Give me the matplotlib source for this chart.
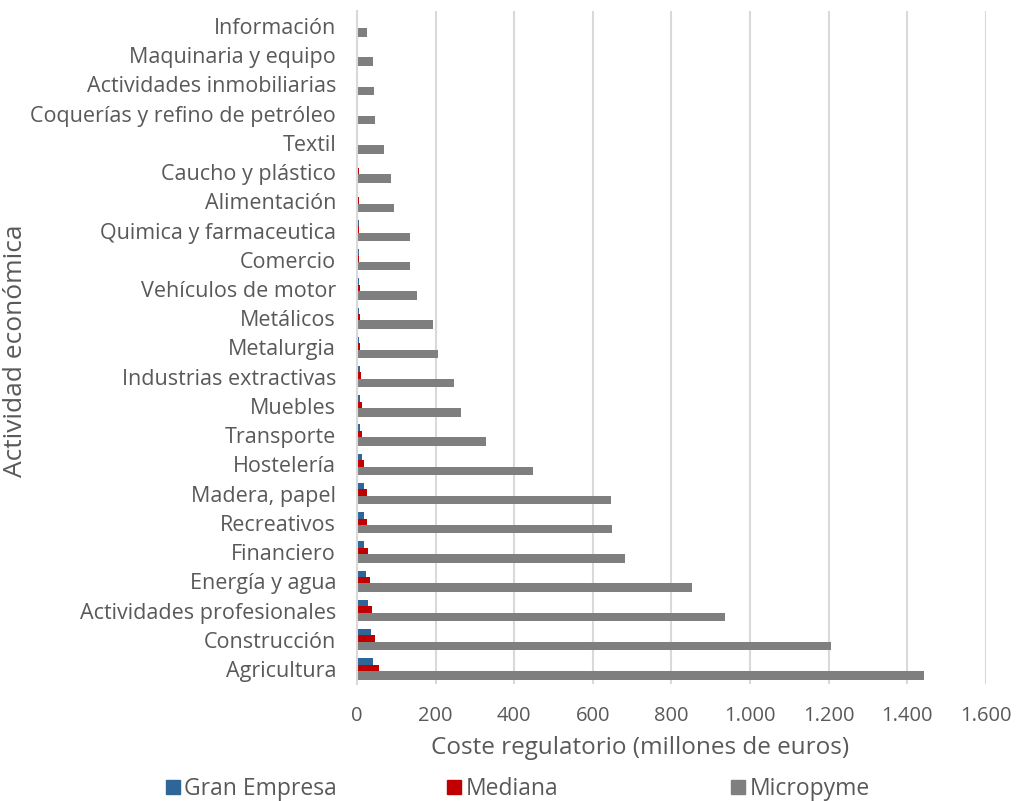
import numpy as np
import matplotlib
matplotlib.use("Agg")
import matplotlib.pyplot as plt
from matplotlib.patches import Patch

# sectors listed bottom to top
sectores = ["Agricultura", "Construcción", "Actividades profesionales", "Energía y agua",
            "Financiero", "Recreativos", "Madera, papel", "Hostelería", "Transporte",
            "Muebles", "Industrias extractivas", "Metalurgia", "Metálicos",
            "Vehículos de motor", "Comercio", "Quimica y farmaceutica", "Alimentación",
            "Caucho y plástico", "Textil", "Coquerías y refino de petróleo",
            "Actividades inmobiliarias", "Maquinaria y equipo", "Información"]

gran_empresa = [41, 35, 27, 24, 19, 18, 18, 13, 9, 8, 7, 6, 5,
                5, 4, 4, 3, 3, 2, 2, 2, 1.5, 1]
mediana = [57, 47, 37, 34, 27, 26, 26, 18, 14, 12, 11, 9, 8,
           7, 6, 6, 5, 4, 3, 3, 2.5, 2.5, 1.5]
micropyme = [1442, 1206, 936, 852, 683, 648, 646, 448, 329, 264, 248, 205, 194,
             152, 136, 134, 93, 87, 68, 45, 44, 41, 25]

x_ticks = [0, 200, 400, 600, 800, 1000, 1200, 1400, 1600]
x_ticklabels = ["0", "200", "400", "600", "800", "1.000", "1.200", "1.400", "1.600"]

c_gran = "#2F6699"
c_med = "#C00000"
c_micro = "#7F7F7F"
txt = "#595959"
font = "Open Sans"

fig = plt.figure(figsize=(10.19, 8.01), dpi=100)
ax = fig.add_axes([0.3503, 0.1466, 0.6173, 0.8392])

y = np.arange(len(sectores))
off = 0.22
h = 0.29
ax.barh(y + off, gran_empresa, height=h, color=c_gran, zorder=3)
ax.barh(y, mediana, height=h, color=c_med, zorder=4)
ax.barh(y - off, micropyme, height=h, color=c_micro, zorder=5)

ax.set_ylim(-0.5, len(sectores) - 0.5)
ax.set_xlim(0, 1600)
ax.set_xticks(x_ticks)
ax.set_xticklabels(x_ticklabels, fontsize=14.5, color=txt, family=font)
ax.set_yticks(y)
ax.set_yticklabels(sectores, fontsize=15.5, color=txt, family=font)
ax.tick_params(axis="both", length=0)
ax.tick_params(axis="x", pad=16)
ax.tick_params(axis="y", pad=15)

ax.grid(axis="x", color="#D9D9D9", linewidth=1.5, zorder=0)
for s in ["top", "right", "bottom"]:
    ax.spines[s].set_visible(False)
ax.spines["left"].set_color("#D9D9D9")
ax.spines["left"].set_linewidth(1.5)
ax.spines["left"].set_zorder(6)

fig.text(640 / 1019, 1 - 748 / 801, "Coste regulatorio (millones de euros)",
         ha="center", va="center", fontsize=17.5, color=txt, family=font)
fig.text(16 / 1019, 1 - 351 / 801, "Actividad económica", rotation=90,
         ha="center", va="center", fontsize=19, color=txt, family=font)

# one legend entry per slot along the bottom edge
entries = [(c_gran, "Gran Empresa", 166), (c_med, "Mediana", 447), (c_micro, "Micropyme", 731)]
for color, label, xpos in entries:
    fig.legend(handles=[Patch(color=color, label=label)], loc="center left",
               bbox_to_anchor=(xpos / 1019, 1 - 789 / 801), frameon=False,
               borderpad=0, borderaxespad=0, handlelength=0.6, handleheight=0.6,
               handletextpad=0.2, prop={"family": font, "size": 16.5}, labelcolor=txt)

fig.savefig("out.png", dpi=100)
